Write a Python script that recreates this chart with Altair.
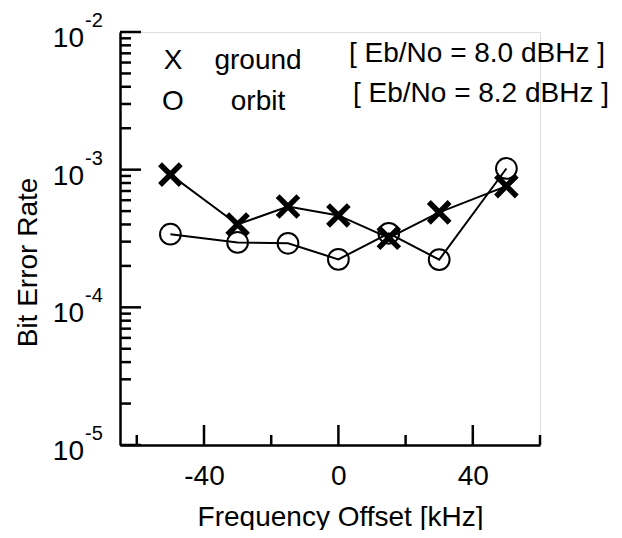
import altair as alt
import pandas as pd

FONT = "Liberation Sans"

# data
freq = [-50, -30, -15, 0, 15, 30, 50]
ground_ber = [9.2e-4, 4.0e-4, 5.4e-4, 4.65e-4, 3.2e-4, 4.9e-4, 7.6e-4]
orbit_ber = [3.4e-4, 2.96e-4, 2.92e-4, 2.23e-4, 3.45e-4, 2.22e-4, 1.02e-3]

# axis ticks / labels
x_major = [-40, 0, 40]
x_minor = [-60, -20, 20, 60]
y_major = [1e-5, 1e-4, 1e-3, 1e-2]
y_exp = ["-5", "-4", "-3", "-2"]
y_minor = [m * 10.0 ** e for e in (-5, -4, -3) for m in range(2, 10)]

legend_marks = ["X", "O"]
legend_names = ["ground", "orbit"]
legend_notes = ["[ Eb/No = 8.0 dBHz ]", "[ Eb/No = 8.2 dBHz ]"]

W, H = 420, 413
FS = 28

ground_df = pd.DataFrame({"f": freq, "v": ground_ber})
orbit_df = pd.DataFrame({"f": freq, "v": orbit_ber})
ymaj_df = pd.DataFrame({"v": y_major, "e": y_exp})
ymin_df = pd.DataFrame({"v": y_minor})
xmaj_df = pd.DataFrame({"f": x_major})
xmin_df = pd.DataFrame({"f": x_minor})

x_scale = alt.Scale(domain=[-65, 60], nice=False, zero=False)
y_scale = alt.Scale(type="log", domain=[1e-5, 1e-2], nice=False)

x_axis = alt.Axis(values=x_major, ticks=False, tickSize=0, grid=False,
                  domainColor="black", domainWidth=2.5,
                  labelFont=FONT, labelFontSize=FS, labelColor="black",
                  labelPadding=17, labelFlush=False,
                  labelExpr="'' + datum.value",
                  title="Frequency Offset [kHz]", titleFont=FONT,
                  titleFontSize=FS, titleFontWeight="normal", titleColor="black",
                  titleX=220, titleY=80, titleBaseline="alphabetic",
                  titleAlign="center", titleAnchor="start")
y_axis = alt.Axis(labels=False, ticks=False, tickSize=0, grid=False,
                  domainColor="black", domainWidth=2.5,
                  title="Bit Error Rate", titleFont=FONT, titleFontSize=FS,
                  titleFontWeight="normal", titleColor="black",
                  titleX=-84, titleY=230, titleAngle=270,
                  titleBaseline="alphabetic", titleAlign="center",
                  titleAnchor="start")

def X():
    return alt.X("f:Q", scale=x_scale, axis=x_axis)

def Y():
    return alt.Y("v:Q", scale=y_scale, axis=y_axis)

ground_line = alt.Chart(ground_df).mark_line(color="black", strokeWidth=2).encode(x=X(), y=Y())
orbit_line = alt.Chart(orbit_df).mark_line(color="black", strokeWidth=2).encode(x=X(), y=Y())

ground_pts = alt.Chart(ground_df).mark_point(
    shape="M-1,-1L1,1M-1,1L1,-1", filled=False, stroke="black",
    strokeWidth=5.5, size=430, opacity=1
).encode(x=X(), y=Y())
orbit_pts = alt.Chart(orbit_df).mark_point(
    shape="circle", filled=False, stroke="black", strokeWidth=2,
    size=430, opacity=1
).encode(x=X(), y=Y())

ymaj_ticks = alt.Chart(ymaj_df).mark_rule(color="black", strokeWidth=2.5).encode(
    y=Y(), x=alt.value(0), x2=alt.value(21))
ymin_ticks = alt.Chart(ymin_df).mark_rule(color="black", strokeWidth=2.5).encode(
    y=Y(), x=alt.value(0), x2=alt.value(11))
xmaj_ticks = alt.Chart(xmaj_df).mark_rule(color="black", strokeWidth=2.5).encode(
    x=X(), y=alt.value(H), y2=alt.value(H - 20))
xmin_ticks = alt.Chart(xmin_df).mark_rule(color="black", strokeWidth=2.5).encode(
    x=X(), y=alt.value(H), y2=alt.value(H - 10))

ylab_base = alt.Chart(ymaj_df).mark_text(
    font=FONT, fontSize=FS, align="right", baseline="middle", dy=7, color="black"
).encode(y=Y(), x=alt.value(-36), text=alt.value("10"))
ylab_exp = alt.Chart(ymaj_df).mark_text(
    font=FONT, fontSize=20, align="left", baseline="middle", dy=-11, color="black"
).encode(y=Y(), x=alt.value(-35), text="e:N")

legend_layers = []
for i in range(2):
    row_df = pd.DataFrame({"m": [legend_marks[i]], "n": [legend_names[i]], "t": [legend_notes[i]]})
    base_y = 37 + i * 41
    legend_layers.append(alt.Chart(row_df).mark_text(
        font=FONT, fontSize=FS, align="center", baseline="alphabetic", color="black"
    ).encode(x=alt.value(53), y=alt.value(base_y), text="m:N"))
    legend_layers.append(alt.Chart(row_df).mark_text(
        font=FONT, fontSize=FS, align="center", baseline="alphabetic", color="black"
    ).encode(x=alt.value(138), y=alt.value(base_y), text="n:N"))
    legend_layers.append(alt.Chart(row_df).mark_text(
        font=FONT, fontSize=FS, align="right", baseline="alphabetic", color="black"
    ).encode(x=alt.value(485 + i * 4), y=alt.value(30 + i * 40), text="t:N"))

chart = alt.layer(
    ymin_ticks, ymaj_ticks, xmin_ticks, xmaj_ticks,
    ground_line, orbit_line, ground_pts, orbit_pts,
    ylab_base, ylab_exp, *legend_layers
).properties(
    width=W, height=H,
    autosize=alt.AutoSizeParams(type="none"),
    padding={"left": 112, "top": 24, "right": 74, "bottom": 85},
).configure_view(stroke=None).configure(background="white")

chart.save("out.html", embed_options={"renderer": "svg", "actions": False})
